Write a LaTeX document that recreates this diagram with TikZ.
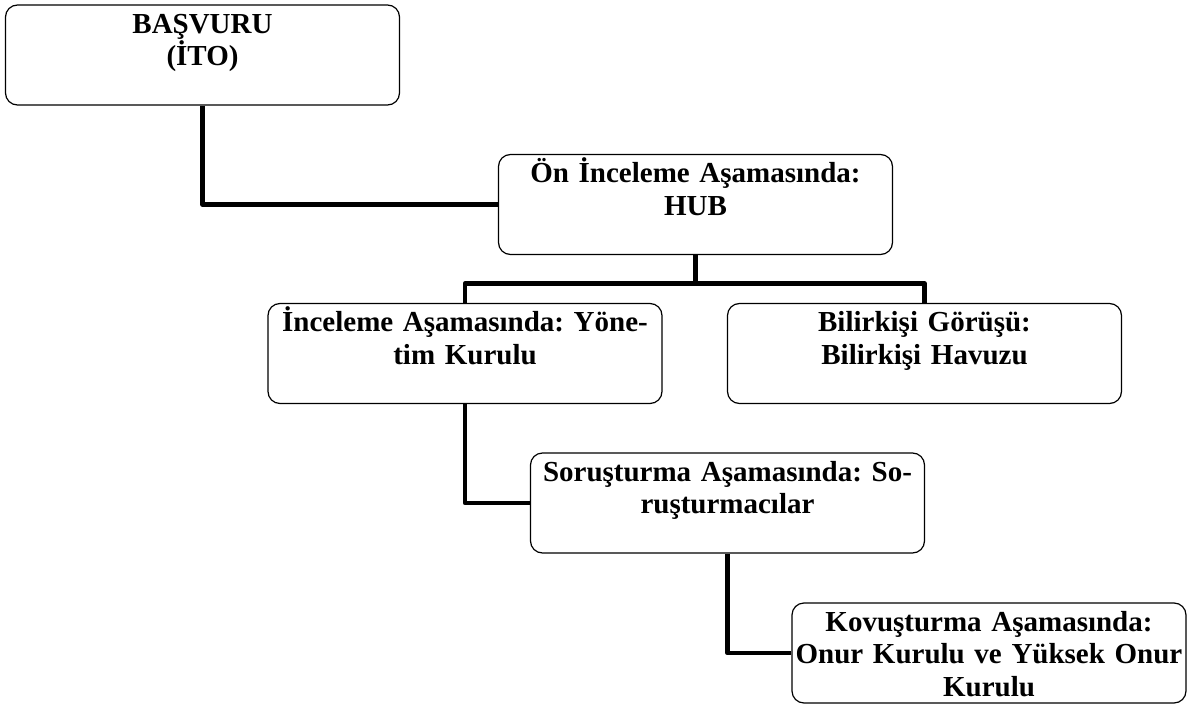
\documentclass[tikz,border=0pt]{standalone}
\usepackage{fontspec}
\setmainfont{Liberation Serif}
\usepackage{tikz}
\usetikzlibrary{calc,positioning}

\tikzset{
  stagebox/.style={draw, line width=1.2pt, rounded corners=12pt,
    text width=392pt, align=center, inner xsep=1pt, inner ysep=6pt,
    text height=22pt, text depth=66pt,
    font=\bfseries\fontsize{29}{32.5}\selectfont\frenchspacing},
  link/.style={line width=4.5pt, line join=round}
}

\begin{document}
\begin{tikzpicture}[x=1pt,y=-1pt]
        \useasboundingbox (0,0) rectangle (1187,704);
        % kutular
        \node[stagebox] (basvuru)  at (202.5,55)  {BAŞVURU\\(İTO)};
        \node[stagebox] (onince)   at (695.5,204.5) {Ön İnceleme Aşamasında:\\HUB};
        \node[stagebox] (inceleme) at (465,353.5) {İnceleme Aşamasında: Yöne-\\tim Kurulu};
        \node[stagebox] (bilirkisi) at (924.5,353.5) {Bilirkişi Görüşü:\\Bilirkişi Havuzu};
        \node[stagebox] (sorusturma) at (727.5,503) {Soruşturma Aşamasında: So-\\ruşturmacılar};
        \node[stagebox] (kovusturma) at (989,653) {Kovuşturma Aşamasında:\\Onur Kurulu ve Yüksek Onur\\Kurulu};
        % baglantilar
        \draw[link] (basvuru.south) |- (onince.west);
        \draw[link] (onince.south) -- ++(0,28.5) coordinate (bus);
        \draw[link] (inceleme.north) |- (bus) -| (bilirkisi.north);
        \draw[link] (inceleme.south) |- (sorusturma.west);
        \draw[link] (sorusturma.south) |- (kovusturma.west);
\end{tikzpicture}
\end{document}
